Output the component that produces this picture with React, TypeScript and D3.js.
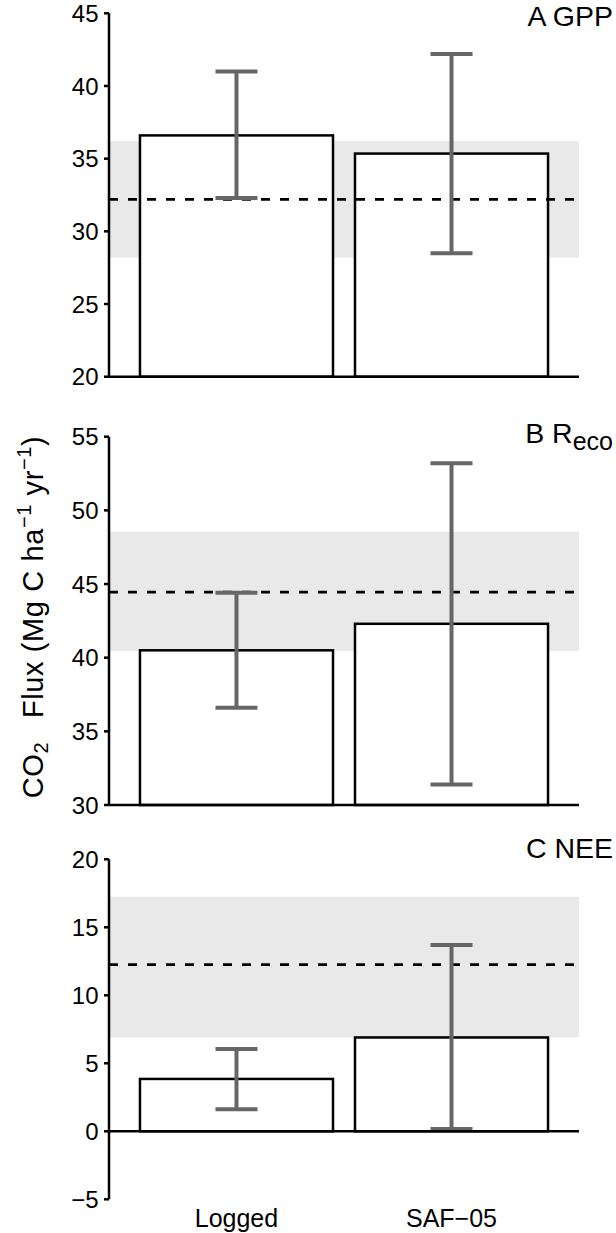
import React from "react";
import * as d3 from "d3";

const categories = ["Logged", "SAF\u221205"];

const gppMean = [36.6, 35.35];
const gppLow = [32.3, 28.5];
const gppHigh = [41.0, 42.2];
const gppRef = [28.2, 32.2, 36.2];
const gppTicks = [20, 25, 30, 35, 40, 45];

const recoMean = [40.5, 42.3];
const recoLow = [36.6, 31.4];
const recoHigh = [44.4, 53.2];
const recoRef = [40.45, 44.45, 48.55];
const recoTicks = [30, 35, 40, 45, 50, 55];

const neeMean = [3.85, 6.9];
const neeLow = [1.62, 0.17];
const neeHigh = [6.05, 13.7];
const neeRef = [6.9, 12.25, 17.25];
const neeTicks = [-5, 0, 5, 10, 15, 20];

const FONT = "'Liberation Sans', Arial, Helvetica, sans-serif";
const AX_X = 109;
const AX_END = 579;

const x = d3
  .scaleBand<string>()
  .domain(categories)
  .range([AX_X, AX_END])
  .paddingInner(0.1023)
  .paddingOuter(0.144);

type PanelProps = {
  mean: number[];
  low: number[];
  high: number[];
  ref: number[];
  ticks: number[];
  top: number;
  bottom: number;
  base: number;
  title: React.ReactNode;
  titleY: number;
};

function Panel({ mean, low, high, ref, ticks, top, bottom, base, title, titleY }: PanelProps) {
  const y = d3
    .scaleLinear()
    .domain([ticks[0], ticks[ticks.length - 1]])
    .range([bottom, top]);
  const capHalf = 21;
  return (
    <g>
      <rect
        x={AX_X}
        width={AX_END - AX_X}
        y={y(ref[2])}
        height={y(ref[0]) - y(ref[2])}
        fill="#e8e9e8"
      />
      {categories.map((c, i) => (
        <rect
          key={c}
          x={x(c)}
          width={x.bandwidth()}
          y={y(mean[i])}
          height={y(base) - y(mean[i])}
          fill="#fff"
          stroke="#000"
          strokeWidth={2.5}
        />
      ))}
      <line
        x1={AX_X}
        x2={AX_END}
        y1={y(ref[1])}
        y2={y(ref[1])}
        stroke="#000"
        strokeWidth={2.7}
        strokeDasharray="9 10"
      />
      {categories.map((c, i) => {
        const cx = (x(c) as number) + x.bandwidth() / 2;
        return (
          <g key={c} stroke="#666" strokeWidth={4}>
            <line x1={cx} x2={cx} y1={y(low[i])} y2={y(high[i])} />
            <line x1={cx - capHalf} x2={cx + capHalf} y1={y(low[i])} y2={y(low[i])} />
            <line x1={cx - capHalf} x2={cx + capHalf} y1={y(high[i])} y2={y(high[i])} />
          </g>
        );
      })}
      <line x1={AX_X} x2={AX_END} y1={y(base)} y2={y(base)} stroke="#000" strokeWidth={2.5} />
      <line x1={AX_X} x2={AX_X} y1={y(ticks[0])} y2={y(ticks[ticks.length - 1])} stroke="#000" strokeWidth={2.5} />
      {ticks.map((t) => (
        <g key={t}>
          <line x1={AX_X - 5} x2={AX_X} y1={y(t)} y2={y(t)} stroke="#000" strokeWidth={2.5} />
          <text
            x={98.5}
            y={y(t)}
            dy="0.36em"
            textAnchor="end"
            fontSize={24}
            fontFamily={FONT}
            fill="#000"
          >
            {t < 0 ? "\u2212" + Math.abs(t) : t}
          </text>
        </g>
      ))}
      <text x={613} y={titleY} textAnchor="end" fontSize={28.5} fontFamily={FONT} fill="#000">
        {title}
      </text>
    </g>
  );
}

export default function App() {
  return (
    <svg
      width={616}
      height={1233}
      style={{ position: "absolute", left: 0, top: 0, background: "#fff" }}
    >
      <rect width={616} height={1233} fill="#fff" />
      <Panel
        mean={gppMean}
        low={gppLow}
        high={gppHigh}
        ref={gppRef}
        ticks={gppTicks}
        top={13.3}
        bottom={376.7}
        base={20}
        title="A GPP"
        titleY={26}
      />
      <Panel
        mean={recoMean}
        low={recoLow}
        high={recoHigh}
        ref={recoRef}
        ticks={recoTicks}
        top={436.7}
        bottom={805}
        base={30}
        title={
          <>
            B R
            <tspan fontSize={25} dy={7}>
              eco
            </tspan>
          </>
        }
        titleY={443}
      />
      <Panel
        mean={neeMean}
        low={neeLow}
        high={neeHigh}
        ref={neeRef}
        ticks={neeTicks}
        top={859.3}
        bottom={1199.3}
        base={0}
        title="C NEE"
        titleY={858}
      />
      {categories.map((c) => (
        <text
          key={c}
          x={(x(c) as number) + x.bandwidth() / 2}
          y={1226.5}
          textAnchor="middle"
          fontSize={25}
          fontFamily={FONT}
          fill="#000"
        >
          {c}
        </text>
      ))}
      <text
        transform="translate(43,617) rotate(-90)"
        textAnchor="middle"
        fontSize={29}
        letterSpacing={0.6}
        fontFamily={FONT}
        fill="#000"
      >
        CO
        <tspan fontSize={20} dy={5}>2</tspan>
        <tspan dy={-5}>{"\u2002 Flux (Mg C ha"}</tspan>
        <tspan fontSize={20} dy={-12}>{"\u22121"}</tspan>
        <tspan dy={12}>{" yr"}</tspan>
        <tspan fontSize={20} dy={-12}>{"\u22121"}</tspan>
        <tspan dy={12}>)</tspan>
      </text>
    </svg>
  );
}
